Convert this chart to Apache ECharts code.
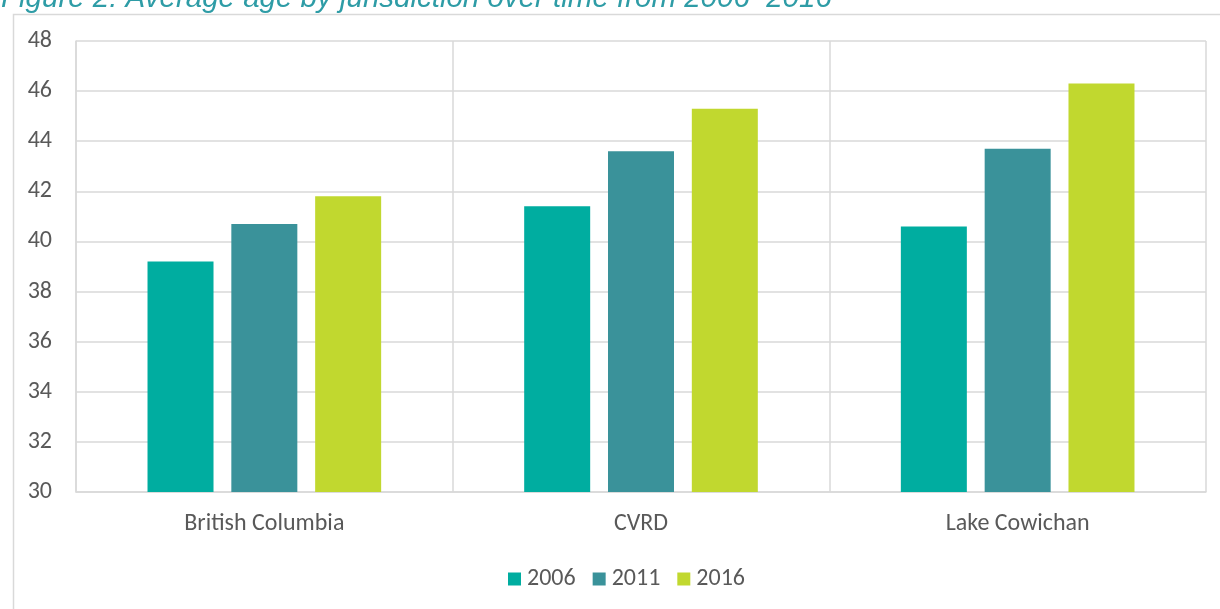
<!DOCTYPE html>
<html><head><meta charset="utf-8">
<script src="https://cdn.jsdelivr.net/npm/echarts@6/dist/echarts.min.js"></script>
<style>html,body{margin:0;padding:0;background:#fff}#c{width:1220px;height:609px}</style>
</head><body><div id="c"></div>
<script>
const categories = ['British Columbia', 'CVRD', 'Lake Cowichan'];
const seriesNames = ['2006', '2011', '2016'];
const values2006 = [39.2, 41.4, 40.6];
const values2011 = [40.7, 43.6, 43.7];
const values2016 = [41.8, 45.3, 46.3];
const colors = ['#00ADA0', '#3A929A', '#C1D82F'];
const font = 'Carlito, Lato, "Open Sans", sans-serif';

const chart = echarts.init(document.getElementById('c'));
const allValues = [values2006, values2011, values2016];
chart.setOption({
  animation: false,
  title: {
    text: 'Figure 2: Average age by jurisdiction over time from 2006–2016',
    left: -4, top: -21,
    textStyle: { color: '#2E9CA6', fontStyle: 'italic', fontWeight: 'normal', fontSize: 29.5, fontFamily: 'Liberation Sans, Arial, sans-serif' }
  },
  graphic: [{
    type: 'rect', left: 11, top: 12, z: -1,
    shape: { width: 1240, height: 640 },
    style: { fill: 'none', stroke: '#D9D9D9', lineWidth: 1.5 }
  }],
  grid: { left: 76, right: 14, top: 41, bottom: 117 },
  legend: {
    top: 562, left: 503, itemWidth: 13, itemHeight: 13, itemGap: 17,
    icon: 'rect',
    textStyle: { color: '#595959', fontSize: 24, fontFamily: font, padding: [0, 0, 0, 1] },
    data: seriesNames
  },
  xAxis: {
    type: 'category', data: categories,
    axisLine: { lineStyle: { color: '#D9D9D9', width: 1.5 } },
    axisTick: { show: false },
    splitLine: { show: true, lineStyle: { color: '#D9D9D9', width: 1.5 } },
    axisLabel: { color: '#595959', fontSize: 24, fontFamily: font, margin: 20 }
  },
  yAxis: {
    type: 'value', min: 30, max: 48, interval: 2,
    axisLine: { show: true, lineStyle: { color: '#D9D9D9', width: 1.5 } },
    axisTick: { show: false },
    splitLine: { lineStyle: { color: '#D9D9D9', width: 1.5 } },
    axisLabel: { color: '#595959', fontSize: 24, fontFamily: font, margin: 24 }
  },
  series: seriesNames.map((n, i) => ({
    name: n, type: 'bar', data: allValues[i],
    barWidth: 66, barGap: '27%',
    itemStyle: { color: colors[i] }
  }))
});
</script></body></html>
